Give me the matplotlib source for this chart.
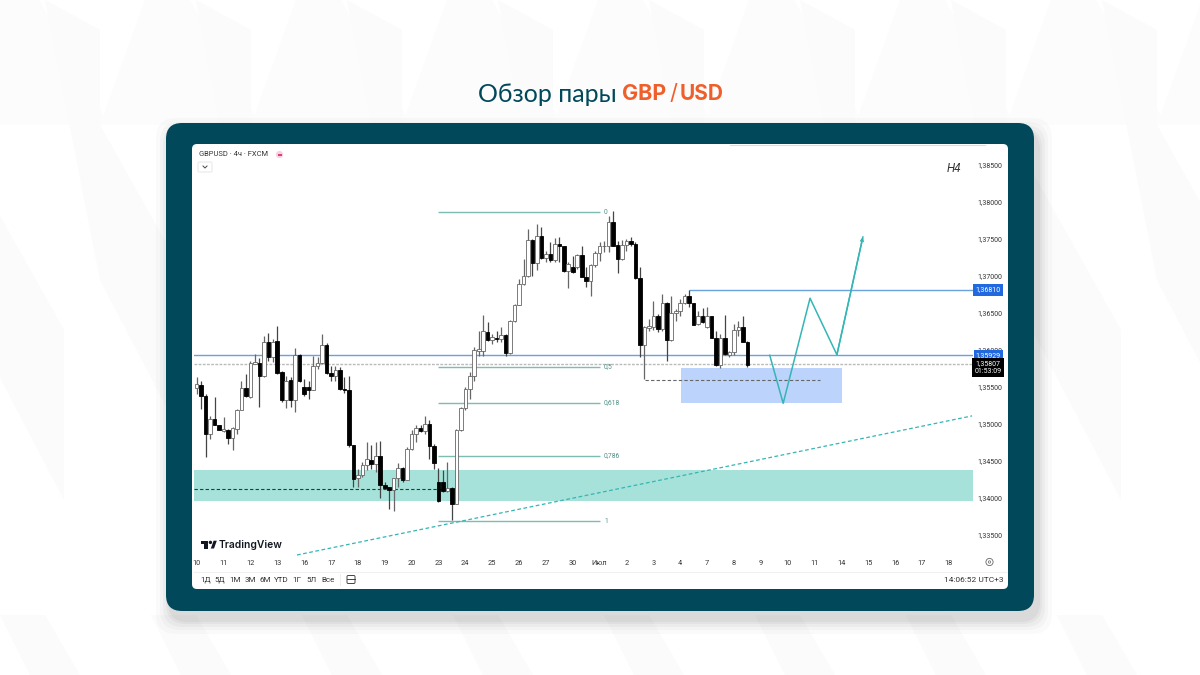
import matplotlib
matplotlib.use('Agg')
import matplotlib.pyplot as plt
from matplotlib.patches import FancyBboxPatch, Polygon, Circle, Rectangle

plt.rcParams['font.family'] = ['Roboto', 'DejaVu Sans']

opens = [1.35484,1.35534,1.35376,1.34868,1.3507,1.3498,1.34904,1.34913,1.34809,1.34935,
         1.35183,1.35489,1.35363,1.35813,1.35822,1.35646,1.36105,1.35903,1.36123,1.357,
         1.35331,1.35597,1.35331,1.35939,1.35498,1.35498,1.35462,1.35781,1.35826,1.36074,
         1.35691,1.35655,1.35732,1.35475,1.35466,1.3471,1.34269,1.34305,1.3444,1.34517,
         1.34463,1.34562,1.3417,1.34143,1.34103,1.34269,1.34404,1.34238,1.34656,1.34868,
         1.34944,1.34908,1.34995,1.34697,1.34215,1.34215,1.34098,1.34134,1.33918,1.34913,
         1.35214,1.35474,1.35645,1.35992,1.35992,1.36248,1.36136,1.36163,1.36149,1.36203,
         1.3596,1.36397,1.36613,1.36892,1.37004,1.3749,1.37175,1.37544,1.37243,1.37297,
         1.3722,1.37432,1.374,1.37072,1.37126,1.37117,1.37288,1.36991,1.36928,1.37148,
         1.37306,1.374,1.37409,1.37733,1.37418,1.37229,1.37418,1.37477,1.37432,1.36973,
         1.36073,1.36303,1.36308,1.36465,1.36285,1.36636,1.36141,1.36497,1.36528,1.36636,
         1.36726,1.36632,1.36348,1.36456,1.36308,1.36465,1.36168,1.35799,1.36168,1.35939,
         1.35979,1.36276,1.36308,1.36114]
highs = [1.35633,1.35588,1.35400,1.35115,1.35363,1.34989,1.35093,1.34935,1.34958,1.35205,
         1.35588,1.35678,1.35858,1.35948,1.35889,1.36195,1.36231,1.3615,1.36321,1.35723,
         1.35655,1.35633,1.36024,1.35948,1.3561,1.35588,1.35925,1.35903,1.36218,1.36096,
         1.3579,1.3579,1.35768,1.35633,1.35646,1.34719,1.34395,1.34485,1.34755,1.3471,
         1.34755,1.34764,1.34215,1.34148,1.34269,1.34476,1.34418,1.34688,1.34913,1.3498,
         1.34989,1.35106,1.35048,1.34733,1.34404,1.34373,1.34485,1.34148,1.34935,1.35228,
         1.35498,1.35699,1.36037,1.36262,1.36478,1.36383,1.36217,1.36262,1.36307,1.36217,
         1.3641,1.36622,1.36959,1.37229,1.37634,1.37499,1.37702,1.37657,1.37342,1.37454,
         1.37508,1.37522,1.37409,1.37184,1.37274,1.37297,1.374,1.37117,1.37162,1.37342,
         1.37454,1.37477,1.37814,1.37873,1.37477,1.3749,1.37499,1.37522,1.37454,1.37117,
         1.36329,1.3642,1.36668,1.36488,1.36758,1.36645,1.36735,1.36555,1.3669,1.36758,
         1.36812,1.36632,1.36533,1.36564,1.36578,1.36465,1.36263,1.36218,1.36474,1.35993,
         1.36353,1.36398,1.36456,1.36128]
lows = [1.35408,1.35205,1.34553,1.348,1.3498,1.34913,1.3489,1.34733,1.34643,1.34868,
        1.35183,1.35363,1.35354,1.35813,1.35228,1.35633,1.35858,1.35835,1.35678,1.35295,
        1.35214,1.35228,1.3516,1.35565,1.35385,1.3534,1.35453,1.35745,1.35813,1.35678,
        1.35588,1.35588,1.35466,1.35421,1.34688,1.34148,1.34148,1.34283,1.34373,1.34395,
        1.3435,1.33999,1.34125,1.33855,1.33819,1.34148,1.34215,1.34238,1.34643,1.34755,
        1.3489,1.34868,1.3453,1.34395,1.33945,1.3408,1.34085,1.337,1.33918,1.34899,
        1.35183,1.35339,1.35587,1.35924,1.35915,1.36127,1.36082,1.36104,1.36104,1.35915,
        1.35947,1.36383,1.36608,1.36878,1.36982,1.37004,1.37085,1.37229,1.37184,1.37184,
        1.37184,1.37184,1.37058,1.36833,1.3704,1.37094,1.36982,1.36847,1.36734,1.37117,
        1.37207,1.37319,1.37319,1.374,1.3704,1.3722,1.37342,1.37409,1.36959,1.35902,
        1.35609,1.36263,1.36276,1.3624,1.36263,1.35858,1.36128,1.36398,1.36465,1.36623,
        1.36578,1.36339,1.36339,1.36366,1.36299,1.36159,1.3579,1.35754,1.35939,1.35903,
        1.35934,1.36195,1.36105,1.35768]
closes = [1.35538,1.35376,1.34868,1.3507,1.3498,1.34922,1.34935,1.34814,1.34944,1.35183,
          1.35489,1.35372,1.35822,1.35835,1.35655,1.36105,1.35912,1.36114,1.35691,1.35331,
          1.35588,1.35331,1.35939,1.35588,1.35403,1.35462,1.3579,1.35826,1.36074,1.35691,
          1.35655,1.35727,1.35475,1.35462,1.3471,1.3426,1.34314,1.3444,1.34521,1.34463,
          1.34562,1.3417,1.34139,1.34107,1.34269,1.34404,1.34238,1.34656,1.34868,1.34944,
          1.34908,1.34995,1.34701,1.34476,1.33959,1.34089,1.34134,1.33918,1.34913,1.35214,
          1.35475,1.35645,1.36005,1.36014,1.36253,1.36136,1.36172,1.36149,1.36203,1.3596,
          1.36397,1.36613,1.36892,1.37004,1.3749,1.37175,1.37544,1.37243,1.37297,1.3722,
          1.37432,1.374,1.37072,1.37162,1.37049,1.37288,1.36991,1.36928,1.37148,1.37306,
          1.37405,1.37409,1.37733,1.37409,1.37229,1.37418,1.37477,1.37432,1.36973,1.36073,
          1.36307,1.36321,1.36465,1.36285,1.36636,1.36141,1.36497,1.36528,1.36636,1.36735,
          1.36632,1.36344,1.36456,1.36375,1.36465,1.36168,1.35799,1.36168,1.35948,1.35979,
          1.36276,1.36308,1.36114,1.35799]

day_labels = ['10','11','12','13','16','17','18','19','20','23','24','25','26','27','30','Июл',
              '2','3','4','7','8','9','10','11','14','15','16','17','18']
price_ticks = [1.335,1.34,1.345,1.35,1.355,1.36,1.365,1.37,1.375,1.38,1.385]
price_labels = ['1,33500','1,34000','1,34500','1,35000','1,35500','1,36000','1,36500',
                '1,37000','1,37500','1,38000','1,38500']
fib_levels = [1.37865,1.35777,1.35284,1.34574,1.33689]
fib_names = ['0','0,5','0,618','0,786','1']
range_buttons = ['1Д','5Д','1М','3М','6М','YTD','1Г','5Л','Все']

level_high = 1.3681
level_mid = 1.35929
last_price = 1.35807
green_zone = [1.33959,1.34378]
blue_zone = [1.35284,1.35757]
green_dash = 1.34120
blue_dash = 1.35595
trend_x = [22.4,173.2]
trend_y = [1.3323,1.3511]
wave_x = [128,131,137,143,148.8]
wave_y = [1.35929,1.3528,1.367,1.35936,1.37527]

TEAL = '#00485a'
ORANGE = '#ef5f2b'
LINE_BLUE = '#6aa2dc'
ZONE_GREEN = '#a6e2d9'
ZONE_BLUE = '#bcd3fb'
FIB = '#7dbcb2'
WAVE = '#35b5b5'

fig = plt.figure(figsize=(12, 6.75), dpi=100, facecolor='white')

# page background, panel and white card, in pixels
bg = fig.add_axes([0, 0, 1, 1])
bg.set_xlim(0, 1200)
bg.set_ylim(675, 0)
bg.axis('off')

for k in range(-1, 9):
    x0 = k * 151
    bg.add_patch(Polygon([(x0 + 45, 0), (x0 + 100, 30), (x0 + 100, 125), (x0 + 215, 330), (x0 + 215, 500), (x0 + 100, 280)],
                         fc='#fbfbfb', ec='none'))
    bg.add_patch(Polygon([(x0 + 100, 125), (x0 + 145, 0), (x0 + 190, 0), (x0 + 260, 125)],
                         fc='#fcfcfc', ec='none'))
    bg.add_patch(Polygon([(x0, 615), (x0 + 45, 615), (x0 + 80, 675), (x0 + 30, 675)],
                         fc='#fbfbfb', ec='none'))

for grow, alpha in zip([14, 10, 7, 4, 2], [0.02, 0.025, 0.03, 0.035, 0.04]):
    bg.add_patch(FancyBboxPatch((166 + 4 - grow, 123 + 9 - grow), 868 + 2 * grow, 488 + 2 * grow,
                                boxstyle='round,pad=0,rounding_size=20', fc='black', ec='none', alpha=alpha))
bg.add_patch(FancyBboxPatch((166, 123), 868, 488, boxstyle='round,pad=0,rounding_size=16', fc=TEAL, ec='none'))
bg.add_patch(FancyBboxPatch((192, 144), 816, 445, boxstyle='round,pad=0,rounding_size=5', fc='white', ec='none'))
bg.plot([193, 1007], [572, 572], color='#f0f0f0', lw=0.8, solid_capstyle='butt')
bg.plot([730, 985], [145, 145], color='#dddddd', lw=0.8)

bg.text(478, 94, 'Обзор пары', family='Lato', fontsize=18, color=TEAL, va='center', ha='left')
bg.text(622, 94, 'GBP', family='Inter', weight='bold', fontsize=15.5, color=ORANGE, va='center', ha='left')
bg.text(670, 94, '/', family='Inter', fontsize=16, color=ORANGE, va='center', ha='left')
bg.text(680, 94, 'USD', family='Inter', weight='bold', fontsize=15, color=ORANGE, va='center', ha='left')

# price chart
ax = fig.add_axes([194 / 1200, 1 - 553 / 675, (973 - 194) / 1200, (553 - 144) / 675])
ax.patch.set_alpha(0)
ax.set_xlim(-0.6, 173.4)
ax.set_ylim(1.33257, 1.38784)
for s in ax.spines.values():
    s.set_visible(False)

ax.axhspan(green_zone[0], green_zone[1], color=ZONE_GREEN, lw=0, zorder=1)
ax.fill_between([108.1, 144.1], blue_zone[0], blue_zone[1], color=ZONE_BLUE, lw=0, zorder=1)

ax.axhline(level_mid, color=LINE_BLUE, lw=1, zorder=2)
ax.axhline(last_price, color='#bbbbbb', lw=1, ls=(0, (2, 1)), zorder=2)
ax.hlines(level_high, 110, 173.4, color=LINE_BLUE, lw=1, zorder=2)
ax.hlines(fib_levels, 53.9, 90, color=FIB, lw=1, zorder=2)
for lev, name in zip(fib_levels, fib_names):
    ax.text(91, lev, name, fontsize=4.8, color='#4f8f86', va='center', ha='left')
ax.hlines(green_dash, -0.6, 55.4, color='#1f3f3f', lw=0.8, ls=(0, (3, 2)), zorder=2)
ax.hlines(blue_dash, 100.1, 139.2, color='#666666', lw=0.8, ls=(0, (3, 2)), zorder=2)
ax.plot(trend_x, trend_y, color=WAVE, lw=0.9, ls=(0, (3, 2)), zorder=2, clip_on=False)

# candles
for i in range(len(opens)):
    up = closes[i] >= opens[i]
    ax.vlines(i, lows[i], highs[i], color='#666666' if up else '#444444', lw=0.9, zorder=3)
    ax.bar(i, abs(closes[i] - opens[i]), bottom=min(opens[i], closes[i]), width=0.8,
           color='white' if up else 'black', edgecolor='#666666' if up else 'black', lw=0.6, zorder=4)

ax.plot(wave_x, wave_y, color=WAVE, lw=1.1, zorder=5)
ax.annotate('', xy=(wave_x[-1], wave_y[-1]), xytext=(wave_x[-2], wave_y[-2]),
            arrowprops=dict(arrowstyle='->', color=WAVE, lw=1.0, mutation_scale=5, shrinkA=0, shrinkB=0), zorder=5)

ax.set_xticks([k * 6 for k in range(len(day_labels))])
ax.set_xticklabels(day_labels, fontsize=5.3, color='#333333')
ax.tick_params(axis='x', length=0, pad=5)
ax.yaxis.tick_right()
ax.set_yticks(price_ticks)
ax.set_yticklabels(price_labels, fontsize=5, color='#333333')
ax.tick_params(axis='y', length=0, pad=3.5)

ytrans = ax.get_yaxis_transform()
ax.text(1.0195, level_high, '1,36810', transform=ytrans, fontsize=5, color='white', va='center', ha='center',
        bbox=dict(fc='#2269e0', ec='none', pad=1.8), zorder=8, clip_on=False)
ax.text(1.0195, level_mid, '1,35929', transform=ytrans, fontsize=5, color='white', va='center', ha='center',
        bbox=dict(fc='#2269e0', ec='none', pad=1.4), zorder=8, clip_on=False)
ax.text(1.0195, last_price - 0.00045, '1,35807\n01:53:09', transform=ytrans, fontsize=5, color='white',
        va='center', ha='center', linespacing=1.0,
        bbox=dict(fc='black', ec='none', pad=1.8), zorder=8, clip_on=False)

# header, logo and bottom bar, in pixels again
top = fig.add_axes([0, 0, 1, 1])
top.set_xlim(0, 1200)
top.set_ylim(675, 0)
top.axis('off')
top.patch.set_alpha(0)

top.text(199, 154.5, 'GBPUSD · 4ч · FXCM', fontsize=5.4, color='#333333', va='center', ha='left')
top.add_patch(Circle((279.5, 154.5), 3.6, fc='#fbd0e0', ec='none'))
top.plot([278, 281], [153.6, 153.6], color='#d83c7a', lw=0.7)
top.plot([278, 281], [155.4, 155.4], color='#d83c7a', lw=0.7)
top.add_patch(FancyBboxPatch((198, 162), 14, 10, boxstyle='round,pad=0,rounding_size=1.5',
                             fc='white', ec='#e6e6e6', lw=0.7))
top.plot([203, 205, 207], [166, 168, 166], color='#444444', lw=0.7)
top.text(954, 169, 'H4', fontsize=8.5, style='italic', color='#333333', va='center', ha='center')

top.add_patch(Rectangle((200.7, 540.7), 7.6, 3.4, fc='#131722', ec='none'))
top.add_patch(Rectangle((204.2, 540.7), 4.1, 7.8, fc='#131722', ec='none'))
top.add_patch(Circle((210.4, 542.4), 1.7, fc='#131722', ec='none'))
top.add_patch(Polygon([(210.8, 548.5), (213.6, 540.7), (216.8, 540.7), (214, 548.5)], fc='#131722', ec='none'))
top.text(219, 544.8, 'TradingView', family='Inter', weight='semibold', fontsize=7.4, color='#131722',
         va='center', ha='left')

for px, name in zip([206, 220, 235, 250, 265, 281, 297, 312, 328], range_buttons):
    top.text(px, 579.5, name, fontsize=5.8, color='#333333', va='center', ha='center')
top.plot([340, 340], [574, 585], color='#eeeeee', lw=0.7)
top.add_patch(FancyBboxPatch((347, 575.5), 8, 8, boxstyle='round,pad=0,rounding_size=1.2',
                             fc='white', ec='#444444', lw=0.7))
top.plot([347, 355], [578.5, 578.5], color='#444444', lw=0.7)
top.text(1003, 579.5, '14:06:52 UTC+3', fontsize=6, color='#333333', va='center', ha='right')
top.add_patch(Circle((989.5, 562), 3.6, fc='white', ec='#666666', lw=0.6))
top.add_patch(Circle((989.5, 562), 1.2, fc='white', ec='#666666', lw=0.5))

fig.savefig('out.png', dpi=100)
